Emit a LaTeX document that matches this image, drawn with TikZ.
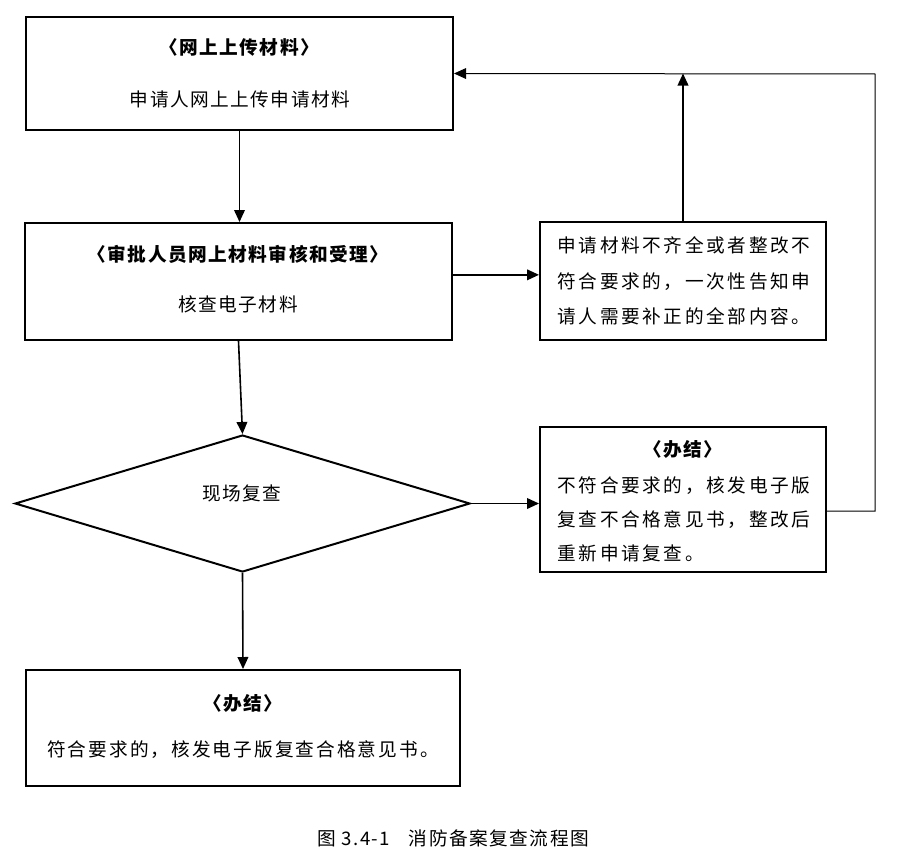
\documentclass[tikz,border=0pt]{standalone}
\usepackage{fontspec}
\setmainfont{Noto Sans CJK SC}[LetterSpace=8]
\usetikzlibrary{arrows.meta,shapes.geometric}
\tikzset{every picture/.style={line width=0.75pt}}
\begin{document}
\begin{tikzpicture}[x=0.75pt,y=0.75pt,yscale=-1,xscale=1,
	box/.style={draw, line width=1.5pt, inner sep=0pt},
	txt/.style={inner sep=0pt, font=\fontsize{14pt}{17pt}\selectfont},
	ttl/.style={txt, font=\fontsize{14pt}{17pt}\selectfont\bfseries},
	link/.style={line width=1.2pt, -{Triangle[length=9pt,width=8pt]}}]
	\path[use as bounding box] (0,0) rectangle (905,856);

	%Shape: Rectangle [upload]
	\node[box, minimum width=320.25pt, minimum height=84.75pt] (upload) at (239.5,73.5) {};
	\node[ttl] (uploadT) at (239,47) {〈网上上传材料〉};
	\node[txt] (uploadB) at (240,99) {申请人网上上传申请材料};

	%Shape: Rectangle [check]
	\node[box, minimum width=320.25pt, minimum height=87.75pt] (check) at (238.5,281.5) {};
	\node[ttl] (checkT) at (238,254) {〈审批人员网上材料审核和受理〉};
	\node[txt] (checkB) at (238,304) {核查电子材料};

	%Shape: Rectangle [supplement]
	\node[box, minimum width=214.5pt, minimum height=88.5pt] (supplement) at (683,281) {};
	\node[txt, anchor=west, align=left, font=\fontsize{14pt}{26.6pt}\selectfont\addfontfeature{LetterSpace=14}] (supplementB) at (557,281)
		{申请材料不齐全或者整改不\\符合要求的，一次性告知申\\请人需要补正的全部内容。};

	%Shape: Diamond [review]
	\node[draw, diamond, line width=1.5pt, inner sep=0pt, minimum width=341.25pt, minimum height=102.75pt] (review) at (242.5,503.5) {};
	\node[txt] (reviewT) at (242,493) {现场复查};

	%Shape: Rectangle [reject]
	\node[box, minimum width=214.5pt, minimum height=108.75pt] (reject) at (683,499.5) {};
	\node[ttl] (rejectT) at (683,449) {〈办结〉};
	\node[txt, anchor=west, align=left, font=\fontsize{14pt}{25.5pt}\selectfont\addfontfeature{LetterSpace=14}] (rejectB) at (557,519)
		{不符合要求的，核发电子版\\复查不合格意见书，整改后\\重新申请复查。};

	%Shape: Rectangle [done]
	\node[box, minimum width=325.5pt, minimum height=87pt] (done) at (243,728) {};
	\node[ttl] (doneT) at (243,703) {〈办结〉};
	\node[txt, font=\fontsize{14pt}{17pt}\selectfont\addfontfeature{LetterSpace=11}] (doneB) at (243,750) {符合要求的，核发电子版复查合格意见书。};

	% Caption
	\node[txt] (caption) at (453,838) {图 3.4-1\quad 消防备案复查流程图};

	%Straight Lines
	\draw[link] (upload.south) -- (upload.south |- check.north);
	\draw[link] ([yshift=-5pt]check.east) -- ([yshift=-5pt]check.east -| supplement.west);
	\draw[link] (supplement.north) -- (supplement.north |- upload.east);
	\draw[link] (check.south) -- (review.north);
	\draw[link] (review.east) -- (review.east -| reject.west);
	\draw[link] (review.south) -- (done.north);
	%Feedback line
	\coordinate (backBot) at (875,511);
	\coordinate (backTop) at (875,74);
	\draw[-{Triangle[length=9pt,width=8pt]}] (reject.east |- backBot) -- (backBot) -- (backTop) -- (upload.east);

\end{tikzpicture}
\end{document}
